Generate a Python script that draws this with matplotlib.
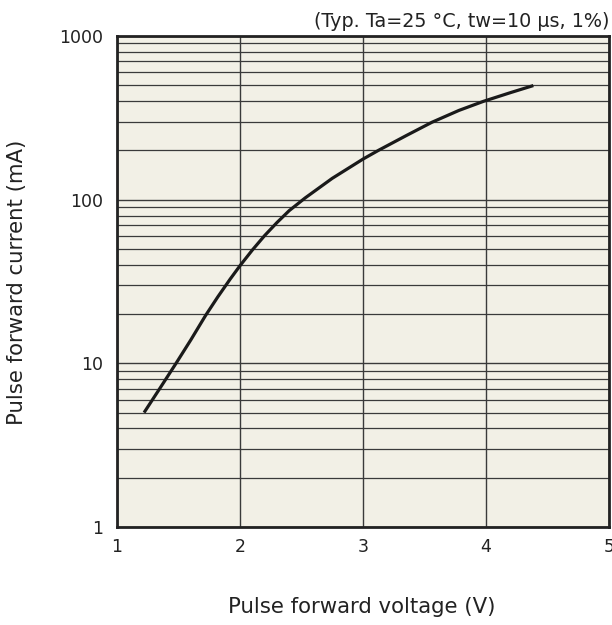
import matplotlib
matplotlib.use("Agg")
import matplotlib.pyplot as plt
from matplotlib.ticker import FixedLocator, NullFormatter, LogLocator

voltage = [1.22, 1.35, 1.48, 1.60, 1.72, 1.82, 1.92, 2.00, 2.10, 2.20, 2.30, 2.40, 2.53, 2.75, 3.00, 3.125, 3.35, 3.56, 3.78, 3.98, 4.20, 4.385]
current = [5.0, 7.06, 10.0, 13.9, 19.6, 25.5, 32.7, 39.5, 49.2, 60.3, 72.4, 85.7, 102.5, 135.0, 177.0, 200.0, 246.0, 297.0, 351.0, 399.0, 451.0, 498.0]

x_ticks = [1, 2, 3, 4, 5]
x_tick_labels = ["1", "2", "3", "4", "5"]
y_ticks = [1, 10, 100, 1000]
y_tick_labels = ["1", "10", "100", "1000"]

title_text = "(Typ. Ta=25 °C, tw=10 μs, 1%)"
x_label = "Pulse forward voltage (V)"
y_label = "Pulse forward current (mA)"

plt.rcParams['font.family'] = ['DejaVu Sans']

fig = plt.figure(figsize=(6.12, 6.25), dpi=100)
ax = fig.add_axes([117/612, 1-527/625, 492/612, 491/625])
ax.set_facecolor("#f2f0e6")

ax.set_yscale("log")
ax.set_xlim(1, 5)
ax.set_ylim(1, 1000)

ax.xaxis.set_major_locator(FixedLocator(x_ticks))
ax.set_xticklabels(x_tick_labels)
ax.yaxis.set_major_locator(FixedLocator(y_ticks))
ax.set_yticklabels(y_tick_labels)
ax.yaxis.set_minor_locator(LogLocator(base=10, subs=range(2, 10)))
ax.yaxis.set_minor_formatter(NullFormatter())

ax.grid(True, which="major", axis="both", color="#3a3a3a", linewidth=1.0)
ax.grid(True, which="minor", axis="y", color="#3a3a3a", linewidth=0.9)
ax.set_axisbelow(True)

ax.tick_params(which="both", length=0, labelsize=12.5, colors="#222222")
ax.tick_params(axis="y", pad=10)
ax.tick_params(axis="x", pad=8)

for s in ax.spines.values():
    s.set_linewidth(2.0)
    s.set_color("#222222")

ax.plot(voltage, current, color="#1a1a1a", linewidth=2.3, solid_capstyle="butt",
        solid_joinstyle="round")

ax.text(1.0, 1.01, title_text, transform=ax.transAxes, ha="right", va="bottom",
        fontsize=13.8, color="#222222")

fig.text(362/612, 1-607/625, x_label, ha="center", va="center", fontsize=15.3, color="#222222")
fig.text(17/612, 1-282/625, y_label, ha="center", va="center", rotation=90, fontsize=15.3, color="#222222")

fig.savefig("out.png", dpi=100, facecolor="white")
